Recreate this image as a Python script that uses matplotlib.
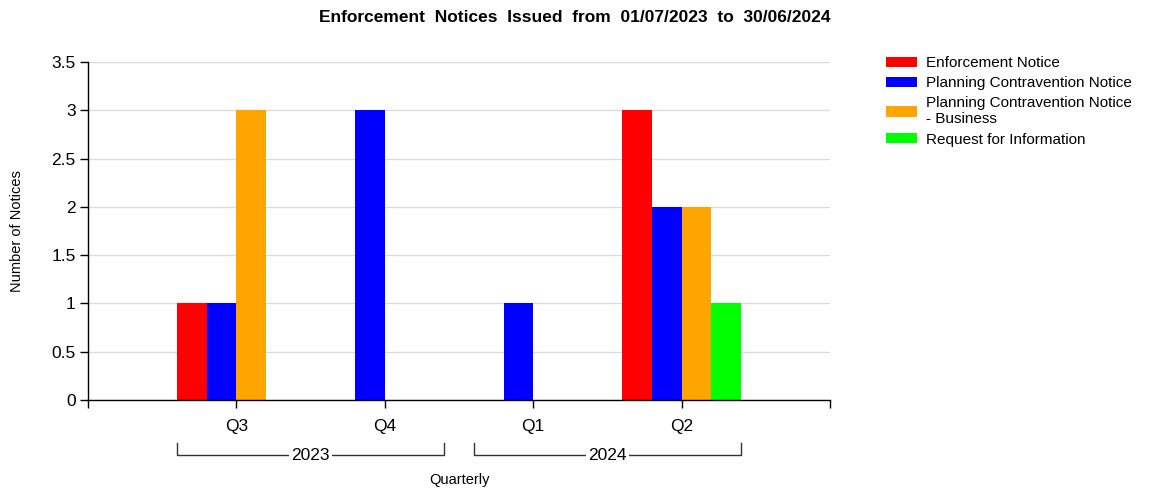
import matplotlib
matplotlib.use("Agg")
import matplotlib.pyplot as plt
import matplotlib.transforms as mtransforms
import numpy as np

plt.rcParams['font.family'] = ['Liberation Sans', 'DejaVu Sans']

quarters = ["Q3", "Q4", "Q1", "Q2"]
years = ["2023", "2024"]
year_spans = [(0, 1), (2, 3)]
series = ["Enforcement Notice", "Planning Contravention Notice",
          "Planning Contravention Notice\n- Business", "Request for Information"]
colors = ["#ff0000", "#0000ff", "#ffa500", "#00ff00"]
values = [
    [1, 0, 0, 3],
    [1, 3, 1, 2],
    [3, 0, 0, 2],
    [0, 0, 0, 1],
]
yticks = [0, 0.5, 1, 1.5, 2, 2.5, 3, 3.5]

W, H = 1155, 488
fig = plt.figure(figsize=(W/100, H/100), dpi=100)
ax = fig.add_axes([88/W, 1-400/H, (830-88)/W, (400-62)/H])

x = np.arange(len(quarters))
bw = 0.2
for i, (name, col, vals) in enumerate(zip(series, colors, values)):
    ax.bar(x + (i - 1.5)*bw, vals, width=bw, color=col, label=name, zorder=3, linewidth=0)

ax.set_xlim(-1, 4)
ax.set_ylim(0, 3.5)
ax.set_yticks(yticks)
ax.set_yticklabels([f"{v:g}" for v in yticks])
ax.set_xticks([-1] + list(x) + [4])
ax.set_xticklabels([""] + quarters + [""])
ax.tick_params(axis='both', labelsize=12.5, length=6, width=1, color='black', direction='out')
ax.tick_params(axis='x', pad=8)
ax.tick_params(axis='y', pad=3)
ax.yaxis.grid(True, color='#dcdcdc', linewidth=1, zorder=0)
ax.set_axisbelow(True)
for s in ['top', 'right']:
    ax.spines[s].set_visible(False)
for s in ['left', 'bottom']:
    ax.spines[s].set_color('black')
    ax.spines[s].set_linewidth(1)
    ax.spines[s].set_zorder(4)

ax.set_ylabel("Number of Notices", fontsize=10.5)
ax.yaxis.set_label_coords(-(88-24)/(830-88), 0.5)

trans = mtransforms.blended_transform_factory(ax.transData, ax.transAxes)
yb = -(455-400)/338
yt = -(443-400)/338
for yr, (a, b) in zip(years, year_spans):
    x0, x1 = a - 0.4, b + 0.4
    ax.plot([x0, x0, x1, x1], [yt, yb, yb, yt], color='#333333', lw=1, transform=trans, clip_on=False)
    ax.text((x0 + x1)/2, yb, yr, transform=trans, ha='center', va='center', fontsize=12.5,
            bbox=dict(facecolor='white', edgecolor='none', pad=1.5))

ax.text(1.5, -(480-400)/338, "Quarterly", transform=trans, ha='center', va='center', fontsize=10.5)

fig.text(575/W, 1-17/H, "Enforcement  Notices  Issued  from  01/07/2023  to  30/06/2024",
         ha='center', va='center', fontsize=12.5, fontweight='bold')

leg = fig.legend(loc='upper left', bbox_to_anchor=(886/W, 1-56/H), frameon=False,
                 fontsize=11, handlelength=2.0, handleheight=0.65, labelspacing=0.4,
                 handletextpad=0.6, borderaxespad=0, borderpad=0)

fig.savefig("out.png", dpi=100)
